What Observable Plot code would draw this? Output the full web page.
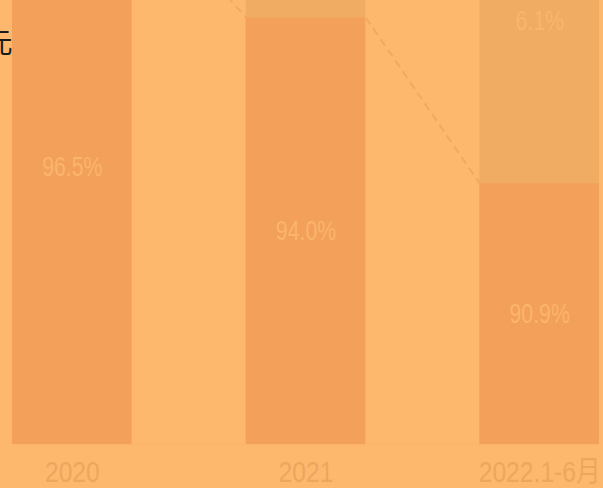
<!DOCTYPE html>
<html><head><meta charset="utf-8">
<script src="https://cdn.jsdelivr.net/npm/d3@7"></script>
<script src="https://cdn.jsdelivr.net/npm/@observablehq/plot@0.6"></script>
<style>
html,body{margin:0;padding:0;background:#FEB86E;overflow:hidden}
svg{display:block}
</style></head><body><div id="chart"></div>
<script>
// data
const categories = ["2020", "2021", "2022.1-6月"];
const mainValues = [100, 76.9, 47.0];      // 主营业务 (bottom segment)
const otherValues = [15, 20, 58.7];        // 其他业务 (top segment)
const mainShares = ["96.5%", "94.0%", "90.9%"];
const otherShares = ["3.5%", "6.0%", "6.1%"];
const unitLabel = "单位：亿元";
const yMax = 80;

const halfWidth = 0.256;
const rows = categories.map((c, i) => ({i, c, main: mainValues[i], other: otherValues[i], ms: mainShares[i], os: otherShares[i]}));
const links = rows.slice(0, -1).map((r, k) => ({x1: r.i + halfWidth, y1: r.main, x2: rows[k + 1].i - halfWidth, y2: rows[k + 1].main}));

const font = "'Liberation Sans','Noto Sans CJK SC',sans-serif";

const plot = Plot.plot({
  width: 603, height: 488,
  marginTop: 0, marginBottom: 44, marginLeft: 12, marginRight: 4,
  style: {background: "#FEB86E", fontFamily: font, overflow: "visible"},
  x: {domain: [-halfWidth, 2 + halfWidth], axis: null},
  y: {domain: [0, yMax], axis: null},
  marks: [
    Plot.rect(rows, {x1: d => d.i - halfWidth, x2: d => d.i + halfWidth, y1: 0, y2: "main", fill: "#F2A05A", clip: true}),
    Plot.rect(rows, {x1: d => d.i - halfWidth, x2: d => d.i + halfWidth, y1: "main", y2: d => d.main + d.other, fill: "#EFAC62", clip: true}),
    Plot.link(links, {x1: "x1", y1: "y1", x2: "x2", y2: "y2", stroke: "#F1A961", strokeWidth: 2, strokeDasharray: "8,5", clip: true}),
    Plot.text(rows, {x: "i", y: d => d.main / 2, text: "ms", fill: "#FBB56C", fontSize: 28}),
    Plot.text(rows.filter(d => d.main + d.other / 2 <= yMax), {x: "i", y: d => d.main + d.other / 2, text: "os", fill: "#FBB56C", fontSize: 28}),
    Plot.ruleY([0], {stroke: "#FCB46A", strokeWidth: 1}),
    Plot.text(rows, {x: "i", text: "c", frameAnchor: "bottom", lineAnchor: "middle", dy: 28, fill: "#EDA65D", fontSize: 29}),
    Plot.text([unitLabel], {frameAnchor: "top-left", textAnchor: "end", lineAnchor: "middle", dy: 44, fill: "#1a1a1a", fontSize: 28, fontFamily: "'Noto Sans CJK SC',sans-serif"})
  ]
});
document.getElementById("chart").appendChild(plot);

// emulate the narrow face of the reference by condensing the label glyphs
const shareSet = new Set([...mainShares, ...otherShares]);
const catSet = new Set(categories);
d3.select(plot).selectAll("text").each(function () {
  const t = this.textContent;
  let f = null;
  if (shareSet.has(t)) f = 0.76;
  else if (catSet.has(t)) f = 0.85;
  if (f) {
    const w = this.getComputedTextLength();
    this.setAttribute("textLength", (w * f).toFixed(1));
    this.setAttribute("lengthAdjust", "spacingAndGlyphs");
  }
});
</script>
</body></html>
